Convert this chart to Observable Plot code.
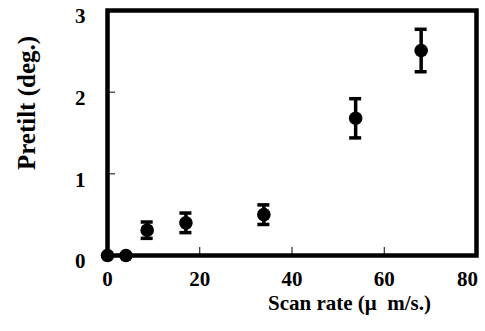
<!DOCTYPE html>
<html>
<head>
<meta charset="utf-8">
<script src="https://cdn.jsdelivr.net/npm/d3@7"></script>
<script src="https://cdn.jsdelivr.net/npm/@observablehq/plot@0.6"></script>
<style>
  html, body { margin: 0; padding: 0; background: #fff; }
  #chart svg { display: block; }
</style>
</head>
<body>
<div id="chart"></div>
<script>
const scanRate = [0, 4, 8.6, 17, 33.9, 53.8, 68];
const pretilt  = [0, 0, 0.31, 0.40, 0.50, 1.68, 2.51];
const errorBar = [0, 0, 0.10, 0.12, 0.12, 0.24, 0.26];
const xTicks = [0, 20, 40, 60, 80];
const yTicks = [0, 1, 2, 3];
const xLabel = "Scan rate (μ\u00a0 m/s.)";
const yLabel = "Pretilt (deg.)";

const data = scanRate.map((x, i) => ({x, y: pretilt[i], e: errorBar[i]}));
const withErr = data.filter(d => d.e > 0);

const font = "'Liberation Serif', 'Times New Roman', serif";

const chart = Plot.plot({
  width: 485,
  height: 331,
  marginLeft: 107,
  marginRight: 9,
  marginTop: 10,
  marginBottom: 76,
  style: {fontFamily: font, fontWeight: "bold", fontSize: "21px", color: "#000", background: "#fff"},
  x: {domain: [0, 80]},
  y: {domain: [0, 3]},
  marks: [
    Plot.axisX(xTicks.slice(0, -1), {tickSize: 0, tickPadding: 16, fontSize: 21, fontWeight: "bold", tickFormat: "d", label: null}),
    Plot.axisX(xTicks.slice(-1), {tickSize: 0, tickPadding: 16, fontSize: 21, fontWeight: "bold", tickFormat: "d", label: null, dx: -9}),
    Plot.axisY(yTicks, {tickSize: 0, tickPadding: 22, fontSize: 21, fontWeight: "bold", tickFormat: "d", label: null, dy: 6}),
    Plot.axisX(xTicks.slice(1, -1), {tickSize: -8, text: null, label: null, strokeWidth: 1}),
    Plot.axisY(yTicks.slice(1, -1), {tickSize: -8, text: null, label: null, strokeWidth: 1}),
    Plot.frame({stroke: "#000", strokeWidth: 4.5}),
    Plot.ruleX(withErr, {x: "x", y1: d => d.y - d.e, y2: d => d.y + d.e, stroke: "#000", strokeWidth: 3.5}),
    Plot.ruleY(withErr, {y: d => d.y + d.e, x1: "x", x2: "x", insetLeft: -6, insetRight: -6, stroke: "#000", strokeWidth: 3.5}),
    Plot.ruleY(withErr, {y: d => d.y - d.e, x1: "x", x2: "x", insetLeft: -6, insetRight: -6, stroke: "#000", strokeWidth: 3.5}),
    Plot.dot(data, {x: "x", y: "y", r: 6.8, fill: "#000", stroke: null}),
    Plot.text([xLabel], {frameAnchor: "bottom", textAnchor: "middle", lineAnchor: "middle", dx: 57.5, dy: 48, fontSize: 21, fontWeight: "bold", fill: "#000"}),
    Plot.text([yLabel], {frameAnchor: "left", textAnchor: "middle", lineAnchor: "middle", dx: -80.5, dy: -30, rotate: -90, fontSize: 25, fontWeight: "bold", fill: "#000"})
  ]
});
document.getElementById("chart").appendChild(chart);
</script>
</body>
</html>
